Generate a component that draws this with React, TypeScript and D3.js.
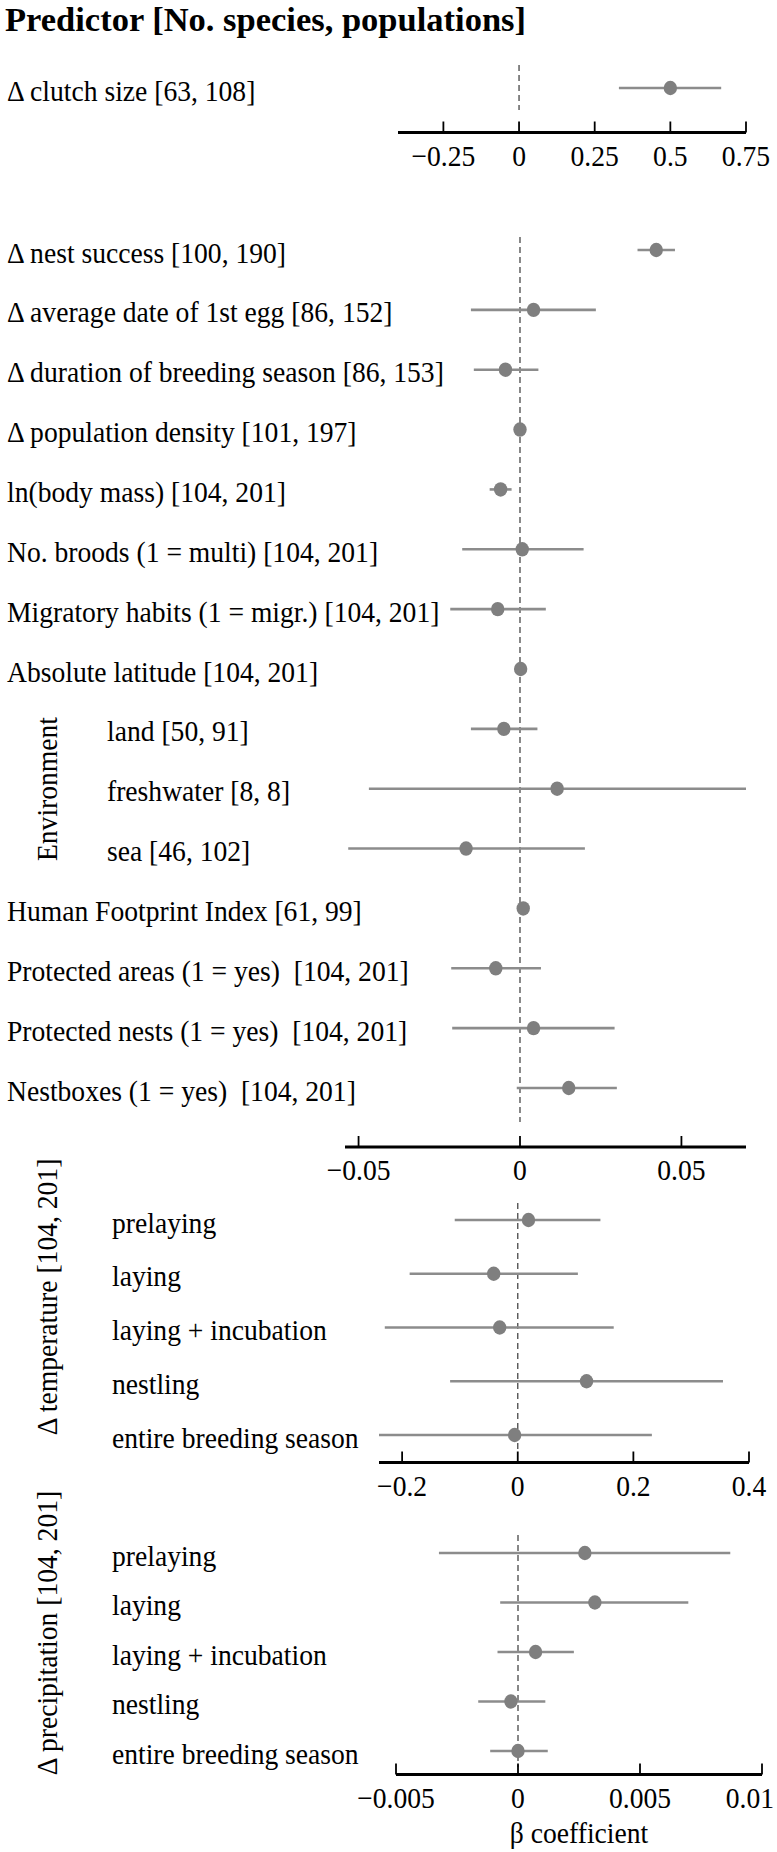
import React from 'react';
import * as d3 from 'd3';

const W = 777;
const H = 1852;
const FONT = '"Liberation Serif", "Times New Roman", Times, serif';
const FS = 30;
const SX = 0.92; // horizontal condensing of the type

// ---------- data ----------
const title = 'Predictor [No. species, populations]';
const xAxisTitle = 'β coefficient';

const clutchLabels = ['Δ clutch size [63, 108]'];
const clutchEst = [0.5];
const clutchLo = [0.33];
const clutchHi = [0.668];
const clutchTicks = [-0.25, 0, 0.25, 0.5, 0.75];
const clutchTickLabels = ['−0.25', '0', '0.25', '0.5', '0.75'];

const mainLabels = [
  'Δ nest success [100, 190]',
  'Δ average date of 1st egg [86, 152]',
  'Δ duration of breeding season [86, 153]',
  'Δ population density [101, 197]',
  'ln(body mass) [104, 201]',
  'No. broods (1 = multi) [104, 201]',
  'Migratory habits (1 = migr.) [104, 201]',
  'Absolute latitude [104, 201]',
  'land [50, 91]',
  'freshwater [8, 8]',
  'sea [46, 102]',
  'Human Footprint Index [61, 99]',
  'Protected areas (1 = yes)  [104, 201]',
  'Protected nests (1 = yes)  [104, 201]',
  'Nestboxes (1 = yes)  [104, 201]',
];
const mainEst = [0.0422, 0.0042, -0.0045, 0.0, -0.006, 0.0007, -0.0069, 0.0002, -0.005, 0.0115, -0.0167, 0.001, -0.0075, 0.0042, 0.0151];
const mainLo = [0.0364, -0.0152, -0.0143, -0.0005, -0.0094, -0.0179, -0.0216, -0.0003, -0.0152, -0.0468, -0.0532, 0.0006, -0.0213, -0.021, -0.001];
const mainHi = [0.048, 0.0235, 0.0057, 0.0005, -0.0026, 0.0197, 0.008, 0.0007, 0.0054, 0.07, 0.0201, 0.0014, 0.0065, 0.0293, 0.03];
const environmentGroup = 'Environment';
const environmentRows = ['land [50, 91]', 'freshwater [8, 8]', 'sea [46, 102]'];
const mainTicks = [-0.05, 0, 0.05];
const mainTickLabels = ['−0.05', '0', '0.05'];

const tempGroup = 'Δ temperature [104, 201]';
const tempLabels = ['prelaying', 'laying', 'laying + incubation', 'nestling', 'entire breeding season'];
const tempEst = [0.0186, -0.0416, -0.0312, 0.119, -0.0054];
const tempLo = [-0.109, -0.187, -0.23, -0.117, -0.24];
const tempHi = [0.143, 0.104, 0.166, 0.355, 0.232];
const tempTicks = [-0.2, 0, 0.2, 0.4];
const tempTickLabels = ['−0.2', '0', '0.2', '0.4'];

const precGroup = 'Δ precipitation [104, 201]';
const precLabels = ['prelaying', 'laying', 'laying + incubation', 'nestling', 'entire breeding season'];
const precEst = [0.00274, 0.00315, 0.00072, -0.00029, 0.0];
const precLo = [-0.00324, -0.00073, -0.00084, -0.00163, -0.00114];
const precHi = [0.0087, 0.00698, 0.00229, 0.00112, 0.00122];
const precTicks = [-0.005, 0, 0.005, 0.01];
const precTickLabels = ['−0.005', '0', '0.005', '0.01'];

// ---------- helpers ----------
let _ctx: CanvasRenderingContext2D | null = null;
function textW(s: string, size = FS) {
  if (!_ctx) _ctx = document.createElement('canvas').getContext('2d');
  if (!_ctx) return s.length * size * 0.5 * SX;
  _ctx.font = `${size}px ${FONT}`;
  return _ctx.measureText(s).width * SX;
}

function T({ x, y, children, anchor = 'start', rotate = 0 }: { x: number; y: number; children: string; anchor?: string; rotate?: number }) {
  return (
    <text
      transform={`translate(${x},${y})${rotate ? ` rotate(${rotate})` : ''} scale(${SX},1)`}
      textAnchor={anchor}
      fontFamily={FONT}
      fontSize={FS}
      fill="#000"
      style={{ whiteSpace: 'pre' }}
    >
      {children}
    </text>
  );
}

type PanelProps = {
  labels: string[];
  est: number[];
  lo: number[];
  hi: number[];
  xDomain: [number, number];
  xRange: [number, number];
  yRange: [number, number];
  ticks: number[];
  tickLabels: string[];
  axisY: number;
  dash: [number, number];
  labelX: (l: string) => number;
};

function Panel(p: PanelProps) {
  const x = d3.scaleLinear().domain(p.xDomain).range(p.xRange);
  const y = d3.scalePoint<string>().domain(p.labels).range(p.yRange);
  return (
    <g>
      <line x1={x(0)} x2={x(0)} y1={p.dash[0]} y2={p.dash[1]} stroke="#555" strokeWidth={1.4} strokeDasharray="6,4" />
      {p.labels.map((l, i) => {
        const yy = y(l) as number;
        return (
          <g key={i}>
            <T x={p.labelX(l)} y={yy + 12.5}>{l}</T>
            <line x1={x(p.lo[i])} x2={x(p.hi[i])} y1={yy} y2={yy} stroke="#8c8c8c" strokeWidth={2.6} />
            <ellipse cx={x(p.est[i])} cy={yy} rx={6.7} ry={7.2} fill="#7f7f7f" />
          </g>
        );
      })}
      <line x1={p.xRange[0]} x2={p.xRange[1]} y1={p.axisY} y2={p.axisY} stroke="#000" strokeWidth={3} />
      {p.ticks.map((t, i) => {
        const tx = x(t);
        const w = textW(p.tickLabels[i]);
        const cx = Math.min(tx, W - 3 - w / 2);
        return (
          <g key={'t' + i}>
            <line x1={tx} x2={tx} y1={p.axisY} y2={p.axisY - 11} stroke="#000" strokeWidth={1.8} />
            <T x={cx} y={p.axisY + 33} anchor="middle">{p.tickLabels[i]}</T>
          </g>
        );
      })}
    </g>
  );
}

export default function App() {
  const mainLabelX = (l: string) => (environmentRows.includes(l) ? 107 : 7);
  return (
    <svg width={W} height={H} viewBox={`0 0 ${W} ${H}`} style={{ position: 'absolute', left: 0, top: 0, background: '#fff' }}>
      <rect x={0} y={0} width={W} height={H} fill="#fff" />
      <text x={5} y={31} fontFamily={FONT} fontSize={34.5} fontWeight="bold" fill="#000">{title}</text>

      <Panel labels={clutchLabels} est={clutchEst} lo={clutchLo} hi={clutchHi}
        xDomain={[-0.4, 0.75]} xRange={[398, 746]} yRange={[88, 88]}
        ticks={clutchTicks} tickLabels={clutchTickLabels} axisY={132.5} dash={[65, 110]}
        labelX={() => 7} />

      <Panel labels={mainLabels} est={mainEst} lo={mainLo} hi={mainHi}
        xDomain={[-0.0542, 0.07]} xRange={[345, 746]} yRange={[250, 1088]}
        ticks={mainTicks} tickLabels={mainTickLabels} axisY={1147} dash={[237, 1122]}
        labelX={mainLabelX} />
      <T x={57} y={789} anchor="middle" rotate={-90}>{environmentGroup}</T>

      <Panel labels={tempLabels} est={tempEst} lo={tempLo} hi={tempHi}
        xDomain={[-0.24, 0.4]} xRange={[379, 749]} yRange={[1220, 1435]}
        ticks={tempTicks} tickLabels={tempTickLabels} axisY={1462.5} dash={[1203, 1453]}
        labelX={() => 112} />
      <T x={57} y={1297} anchor="middle" rotate={-90}>{tempGroup}</T>

      <Panel labels={precLabels} est={precEst} lo={precLo} hi={precHi}
        xDomain={[-0.005, 0.01]} xRange={[396, 762]} yRange={[1553, 1751]}
        ticks={precTicks} tickLabels={precTickLabels} axisY={1774.5} dash={[1535, 1767]}
        labelX={() => 112} />
      <T x={57} y={1633} anchor="middle" rotate={-90}>{precGroup}</T>

      <T x={579} y={1843} anchor="middle">{xAxisTitle}</T>
    </svg>
  );
}
